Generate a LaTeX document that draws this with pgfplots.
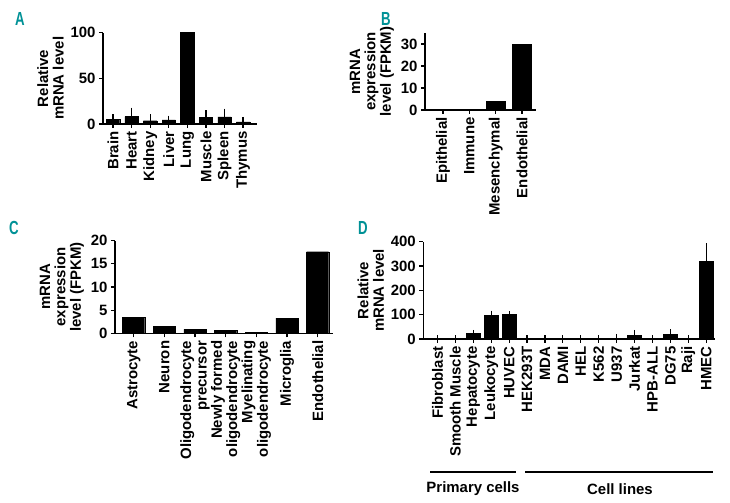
\documentclass[border=0pt]{standalone}
\usepackage{pgfplots}
\pgfplotsset{compat=1.18}
\usepackage{graphicx}
\usepackage{fontspec}
\setmainfont{Liberation Sans}
\definecolor{panelteal}{RGB}{0,145,150}
\newcommand{\lbl}{\fontsize{15}{15.5}\selectfont\bfseries}
\pgfplotsset{
  panel/.style={
    scale only axis, axis lines*=left, anchor=south west,
    axis line style={line width=1.2pt, black},
    every tick/.style={line width=1.2pt, black},
    tick align=outside, major tick length=4bp,
    ybar, bar width=0.72, ymin=0,
    ticklabel style={font=\lbl},
    /pgf/number format/assume math mode=true,
    xticklabel style={rotate=90, anchor=east, align=right, font=\lbl},
    ylabel style={font=\lbl, align=center},
    ytick pos=left, xtick pos=bottom,
  },
  bars/.style={fill=black, draw=black,
    error bars/.cd, y dir=plus, y explicit,
    error bar style={line width=1.2pt, black},
    error mark options={line width=1.2pt, black, mark size=3.5bp}},
}
\pgfplotstableread{
x y e
0 5 2
1 8 6
2 3.6 3.3
3 4.4 0.8
4 100 0
5 7 4.3
6 7.7 5.4
7 2.2 1.8
}\dataA
\pgfplotstableread{
x y
0 0.4
1 0.1
2 3.8
3 29.8
}\dataB
\pgfplotstableread{
x y
0 3.45
1 1.55
2 0.85
3 0.57
4 0.28
5 3.3
6 17.6
}\dataC
\pgfplotstableread{
x y e
0 0 0
1 0 0
2 23 0
3 97 5
4 100 0
5 0 0
6 0 0
7 0 0
8 0 0
9 0 0
10 4 3
11 16 7
12 0 0
13 18 7
14 0 0
15 318 62
}\dataD
\begin{document}
\begin{tikzpicture}
\useasboundingbox (0,0) rectangle (730bp,503bp);
% Panel A
\begin{axis}[panel, at={(103bp,379bp)}, width=154bp, height=91.3bp,
  xmin=-0.54, xmax=7.75, ymax=100, ytick={0,50,100},
  xtick={0,...,7},
  xticklabels={Brain,Heart,Kidney,Liver,Lung,Muscle,Spleen,Thymus},
  ylabel={Relative\\mRNA level}]
\addplot[bars] table[x=x, y=y, y error=e] {\dataA};
\end{axis}
% Panel B
\begin{axis}[panel, at={(425bp,393bp)}, width=111bp, height=77bp,
  xmin=-0.68, xmax=3.53, ymax=35, ytick={0,10,20,30},
  xtick={0,...,3},
  xticklabels={Epithelial,Immune,Mesenchymal,Endothelial},
  ylabel={mRNA\\expression\\level (FPKM)}]
\addplot[fill=black, draw=black] table[x=x, y=y] {\dataB};
\end{axis}
% Panel C
\begin{axis}[panel, at={(115bp,169.7bp)}, width=217.7bp, height=92.7bp,
  xmin=-0.61, xmax=6.49, ymax=20, ytick={0,5,10,15,20},
  xtick={0,...,6},
  xticklabels={Astrocyte,Neuron,{Oligodendrocyte\\precursor},{Newly formed\\oligodendrocyte},{Myelinating\\oligodendrocyte},Microglia,Endothelial},
  ylabel={mRNA\\expression\\level (FPKM)}]
\addplot[fill=black, draw=black] table[x=x, y=y] {\dataC};
\end{axis}
% Panel D
\begin{axis}[panel, at={(423.3bp,164bp)}, width=291.7bp, height=97.3bp,
  xmin=-0.79, xmax=15.49, ymax=400, ytick={0,100,200,300,400},
  xtick={0,...,15}, bar width=0.78,
  xticklabels={Fibroblast,Smooth Muscle,Hepatocyte,Leukocyte,HUVEC,HEK293T,MDA,DAMI,HEL,K562,U937,Jurkat,HPB-ALL,DG75,Raji,HMEC},
  ylabel={Relative\\mRNA level}]
\addplot[bars] table[x=x, y=y, y error=e] {\dataD};
\end{axis}
% group annotations
\draw[line width=1.2pt] (430bp,31bp) -- (516bp,31bp);
\draw[line width=1.2pt] (525bp,31bp) -- (713bp,31bp);
\node[font=\lbl] at (473bp,14bp) {Primary cells};
\node[font=\lbl] at (620bp,14bp) {Cell lines};
% panel letters
\node[font=\fontsize{19}{19}\selectfont\bfseries, text=panelteal] at (20bp,484bp) {\scalebox{0.7}[1]{A}};
\node[font=\fontsize{19}{19}\selectfont\bfseries, text=panelteal] at (386bp,484bp) {\scalebox{0.7}[1]{B}};
\node[font=\fontsize{19}{19}\selectfont\bfseries, text=panelteal] at (14bp,275bp) {\scalebox{0.7}[1]{C}};
\node[font=\fontsize{19}{19}\selectfont\bfseries, text=panelteal] at (363bp,275bp) {\scalebox{0.7}[1]{D}};
\end{tikzpicture}
\end{document}
